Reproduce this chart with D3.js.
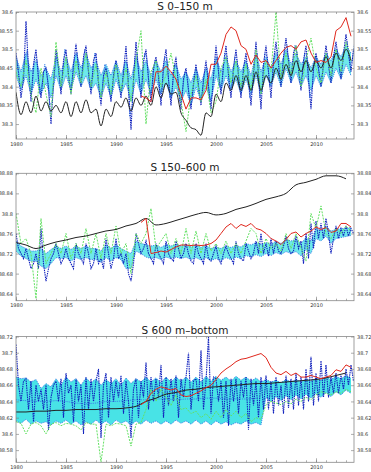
<!DOCTYPE html>
<html>
<head>
<meta charset="utf-8">
<script src="https://cdn.jsdelivr.net/npm/d3@7"></script>
<style>
  body { margin: 0; background: #fff; }
  .tick text { font-family: "DejaVu Sans", sans-serif; font-size: 5px; fill: #333; }
  .tick line { stroke: #777; stroke-width: 0.6; }
  .title { font-family: "DejaVu Sans", sans-serif; font-size: 10.5px; fill: #222; }
</style>
</head>
<body>
<div id="chart"></div>
<script>
// x axis labels, shared by the three panels
const xTicks = [1980, 1985, 1990, 1995, 2000, 2005, 2010];

// ---------- S 0-150 m ----------
const yTicks1 = [38.3, 38.35, 38.4, 38.45, 38.5, 38.55, 38.6];
// half-yearly from 1980.0
const black1 = [38.385,38.325,38.36,38.33,38.375,38.335,38.36,38.335,38.35,38.33,38.36,38.32,38.36,38.33,38.365,38.33,38.34,38.295,38.34,38.32,38.36,38.345,38.37,38.335,38.37,38.35,38.375,38.35,38.40,38.37,38.41,38.38,38.385,38.33,38.31,38.29,38.285,38.27,38.33,38.32,38.38,38.36,38.41,38.39,38.43,38.39,38.43,38.39,38.44,38.39,38.43,38.41,38.45,38.42,38.46,38.43,38.47,38.44,38.47,38.44,38.47,38.45,38.48,38.45,38.49,38.47,38.50,38.47];
// half-yearly from 1992.5
const red1 = [38.375,38.37,38.36,38.44,38.44,38.455,38.44,38.42,38.38,38.34,38.37,38.37,38.365,38.39,38.46,38.46,38.49,38.54,38.56,38.55,38.51,38.50,38.46,38.485,38.465,38.47,38.45,38.47,38.49,38.505,38.51,38.50,38.52,38.525,38.49,38.465,38.47,38.465,38.48,38.55,38.56,38.585,38.535];
// quarterly from 1980.0 (dark blue)
const blue1 = [
  38.49,38.44,38.37,38.42, 38.575,38.45,38.36,38.46, 38.50,38.42,38.37,38.44, 38.45,38.40,38.30,38.41,
  38.50,38.45,38.38,38.47, 38.50,38.43,38.38,38.46, 38.515,38.45,38.40,38.48, 38.51,38.44,38.38,38.47,
  38.49,38.41,38.35,38.43, 38.45,38.41,38.36,38.43, 38.47,38.42,38.37,38.44, 38.51,38.40,38.285,38.42,
  38.52,38.44,38.37,38.47, 38.50,38.42,38.36,38.45, 38.48,38.43,38.35,38.46, 38.50,38.42,38.35,38.44,
  38.48,38.40,38.34,38.42, 38.45,38.39,38.34,38.41, 38.46,38.40,38.35,38.42, 38.47,38.40,38.34,38.43,
  38.51,38.44,38.38,38.46, 38.51,38.43,38.37,38.45, 38.50,38.43,38.37,38.45, 38.49,38.42,38.35,38.44,
  38.52,38.43,38.34,38.46, 38.51,38.44,38.37,38.47, 38.52,38.46,38.40,38.48, 38.53,38.47,38.41,38.49,
  38.51,38.45,38.39,38.47, 38.51,38.42,38.34,38.45, 38.49,38.45,38.40,38.46, 38.51,38.46,38.41,38.48,
  38.52,38.47,38.42,38.49, 38.54,38.49,38.44,38.50];
// quarterly from 1980.125 (medium blue)
const blueB1 = [
  38.46,38.40,38.41,38.47, 38.50,38.39,38.40,38.48, 38.47,38.38,38.41,38.46, 38.43,38.35,38.36,38.44,
  38.49,38.41,38.42,38.50, 38.47,38.40,38.41,38.48, 38.49,38.42,38.43,38.50, 38.48,38.40,38.42,38.49,
  38.45,38.37,38.39,38.46, 38.44,38.38,38.39,38.45, 38.45,38.39,38.40,38.47, 38.46,38.32,38.35,38.48,
  38.49,38.40,38.41,38.49, 38.47,38.38,38.40,38.47, 38.46,38.38,38.40,38.48, 38.47,38.37,38.39,38.46,
  38.45,38.36,38.38,38.44, 38.43,38.36,38.37,38.43, 38.44,38.37,38.38,38.44, 38.45,38.36,38.38,38.46,
  38.48,38.40,38.41,38.49, 38.48,38.39,38.41,38.48, 38.47,38.39,38.41,38.47, 38.46,38.37,38.39,38.47,
  38.49,38.37,38.39,38.49, 38.48,38.40,38.42,38.49, 38.50,38.42,38.44,38.50, 38.51,38.43,38.45,38.51,
  38.49,38.41,38.43,38.49, 38.48,38.37,38.40,38.48, 38.47,38.42,38.43,38.48, 38.49,38.43,38.44,38.50,
  38.50,38.44,38.45,38.51, 38.52,38.46,38.47,38.52];
// half-yearly envelope from 1980.0
const bandHi1 = [38.48,38.44,38.49,38.44,38.47,38.43,38.45,38.42,38.48,38.44,38.48,38.44,38.49,38.45,38.49,38.45,38.47,38.43,38.46,38.43,38.47,38.43,38.47,38.42,38.48,38.44,38.47,38.43,38.47,38.44,38.47,38.43,38.46,38.42,38.44,38.41,38.45,38.41,38.45,38.42,38.48,38.44,38.48,38.44,38.47,38.44,38.47,38.43,38.49,38.44,38.48,38.45,38.49,38.46,38.50,38.46,38.49,38.46,38.48,38.45,38.48,38.46,38.49,38.47,38.50,38.48,38.51,38.49];
const bandLo1 = [38.43,38.39,38.43,38.38,38.42,38.38,38.41,38.37,38.43,38.39,38.43,38.39,38.44,38.40,38.43,38.39,38.41,38.37,38.41,38.37,38.42,38.38,38.41,38.36,38.42,38.38,38.42,38.38,38.42,38.38,38.41,38.37,38.40,38.36,38.39,38.35,38.40,38.36,38.40,38.36,38.43,38.39,38.43,38.39,38.42,38.38,38.42,38.38,38.43,38.38,38.43,38.40,38.44,38.40,38.45,38.41,38.44,38.40,38.43,38.39,38.43,38.40,38.44,38.41,38.45,38.42,38.46,38.43];
const green1 = [38.44,38.40,38.47,38.38,38.33,38.45,38.38,38.32,38.52,38.40,38.48,38.38,38.47,38.41,38.49,38.40,38.46,38.37,38.44,38.38,38.46,38.39,38.45,38.36,38.47,38.55,38.30,38.44,38.47,38.40,38.43,38.49,38.42,38.36,38.28,38.38,38.43,38.36,38.42,38.33,38.36,38.45,38.48,38.41,38.47,38.40,38.46,38.39,38.50,38.38,38.47,38.44,38.60,38.42,38.49,38.43,38.51,38.40,38.47,38.53,38.45,38.41,38.49,38.43,38.50,38.44,38.52,38.47];

// ---------- S 150-600 m ----------
const yTicks2 = [38.64, 38.68, 38.72, 38.76, 38.8, 38.84, 38.88];
// yearly from 1980
const black2 = [38.742,38.737,38.730,38.737,38.743,38.747,38.752,38.755,38.760,38.765,38.768,38.775,38.780,38.790,38.777,38.780,38.786,38.792,38.798,38.802,38.797,38.800,38.808,38.813,38.820,38.828,38.833,38.840,38.857,38.862,38.868,38.875,38.875,38.869];
// half-yearly from 1992.5
const red2 = [38.782,38.790,38.720,38.722,38.725,38.723,38.728,38.733,38.737,38.737,38.736,38.737,38.736,38.737,38.740,38.747,38.760,38.773,38.780,38.770,38.778,38.774,38.780,38.770,38.767,38.760,38.750,38.745,38.738,38.748,38.760,38.763,38.753,38.760,38.765,38.773,38.768,38.772,38.762,38.765,38.780,38.780,38.773];
const blue2 = [
  38.76,38.73,38.72,38.71, 38.73,38.71,38.69,38.70, 38.72,38.69,38.77,38.70, 38.665,38.69,38.71,38.72,
  38.74,38.72,38.70,38.71, 38.73,38.71,38.70,38.69, 38.74,38.72,38.71,38.70, 38.74,38.72,38.69,38.70,
  38.73,38.70,38.71,38.69, 38.75,38.72,38.69,38.71, 38.75,38.71,38.72,38.70, 38.72,38.68,38.665,38.70,
  38.76,38.74,38.72,38.73, 38.745,38.72,38.71,38.70, 38.74,38.72,38.71,38.70, 38.745,38.72,38.71,38.705,
  38.745,38.73,38.71,38.72, 38.74,38.72,38.705,38.70, 38.74,38.72,38.71,38.70, 38.74,38.71,38.705,38.72,
  38.735,38.71,38.70,38.72, 38.735,38.72,38.71,38.70, 38.745,38.72,38.71,38.705, 38.74,38.725,38.71,38.72,
  38.745,38.72,38.76,38.72, 38.74,38.715,38.75,38.72, 38.745,38.725,38.72,38.735, 38.755,38.73,38.72,38.725,
  38.755,38.73,38.745,38.70, 38.76,38.71,38.78,38.73, 38.785,38.75,38.78,38.75, 38.79,38.76,38.72,38.75,
  38.775,38.75,38.77,38.755, 38.775,38.755,38.77,38.76];
const bandHi2 = [38.745,38.735,38.73,38.725,38.725,38.73,38.72,38.728,38.735,38.73,38.735,38.728,38.735,38.73,38.735,38.73,38.73,38.725,38.738,38.73,38.738,38.73,38.725,38.72,38.745,38.74,38.738,38.735,38.737,38.732,38.738,38.735,38.738,38.735,38.738,38.733,38.738,38.732,38.736,38.73,38.733,38.73,38.735,38.732,38.736,38.733,38.74,38.737,38.742,38.738,38.742,38.738,38.745,38.74,38.748,38.745,38.748,38.74,38.752,38.745,38.77,38.765,38.775,38.765,38.768,38.77,38.77,38.772];
const bandLo2 = [38.725,38.715,38.71,38.705,38.705,38.695,38.69,38.70,38.712,38.71,38.712,38.705,38.712,38.708,38.712,38.708,38.708,38.703,38.712,38.705,38.712,38.708,38.69,38.69,38.725,38.72,38.713,38.71,38.712,38.708,38.713,38.71,38.713,38.71,38.713,38.708,38.712,38.707,38.712,38.706,38.71,38.706,38.712,38.708,38.713,38.71,38.716,38.713,38.718,38.714,38.72,38.716,38.722,38.718,38.724,38.72,38.724,38.715,38.728,38.72,38.75,38.745,38.755,38.74,38.75,38.752,38.754,38.756];
const green2 = [38.80,38.74,38.75,38.72,38.63,38.79,38.70,38.72,38.74,38.72,38.76,38.71,38.74,38.72,38.77,38.72,38.76,38.71,38.76,38.72,38.775,38.72,38.74,38.68,38.76,38.74,38.76,38.81,38.73,38.745,38.76,38.72,38.75,38.72,38.77,38.72,38.765,38.72,38.76,38.725,38.74,38.72,38.745,38.72,38.74,38.72,38.745,38.77,38.76,38.72,38.75,38.73,38.74,38.725,38.76,38.73,38.76,38.73,38.705,38.80,38.77,38.815,38.76,38.75,38.77,38.76,38.775,38.765];

// ---------- S 600 m-bottom ----------
const yTicks3 = [38.58, 38.6, 38.62, 38.64, 38.66, 38.68, 38.7, 38.72];
const black3 = [38.627,38.627,38.628,38.628,38.629,38.629,38.630,38.630,38.630,38.631,38.631,38.632,38.634,38.640,38.644,38.649,38.651,38.654,38.655,38.657,38.658,38.659,38.660,38.661,38.662,38.662,38.663,38.664,38.665,38.666,38.667,38.669,38.672,38.675];
const red3 = [38.636,38.640,38.650,38.655,38.658,38.656,38.654,38.656,38.648,38.646,38.647,38.650,38.653,38.657,38.660,38.667,38.675,38.680,38.684,38.689,38.692,38.693,38.695,38.697,38.699,38.694,38.682,38.675,38.673,38.677,38.672,38.675,38.670,38.670,38.672,38.670,38.668,38.670,38.672,38.679,38.677,38.685,38.682];
const blue3 = [
  38.71,38.66,38.64,38.665, 38.668,38.63,38.665,38.615, 38.66,38.64,38.655,38.63, 38.66,38.605,38.645,38.66,
  38.665,38.64,38.668,38.62, 38.675,38.65,38.66,38.615, 38.668,38.64,38.66,38.60, 38.67,38.63,38.668,38.64,
  38.665,38.68,38.595,38.66, 38.675,38.62,38.67,38.64, 38.665,38.645,38.672,38.625, 38.665,38.64,38.595,38.655,
  38.668,38.62,38.665,38.645, 38.688,38.63,38.67,38.64, 38.668,38.645,38.685,38.62, 38.67,38.635,38.668,38.64,
  38.672,38.62,38.668,38.645, 38.67,38.70,38.63,38.665, 38.668,38.64,38.703,38.63, 38.665,38.72,38.625,38.67,
  38.668,38.64,38.665,38.62, 38.665,38.61,38.668,38.64, 38.668,38.625,38.665,38.645, 38.67,38.605,38.668,38.635,
  38.665,38.62,38.67,38.63, 38.672,38.63,38.665,38.625, 38.67,38.635,38.66,38.625, 38.672,38.632,38.668,38.63,
  38.675,38.635,38.67,38.63, 38.68,38.64,38.695,38.635, 38.675,38.64,38.69,38.645, 38.685,38.645,38.67,38.65,
  38.675,38.65,38.672,38.655, 38.68,38.66,38.685,38.665];
const bandHi3 = [38.670,38.668,38.669,38.664,38.667,38.656,38.662,38.658,38.668,38.660,38.670,38.664,38.668,38.660,38.669,38.663,38.668,38.660,38.667,38.662,38.668,38.660,38.669,38.662,38.668,38.664,38.670,38.664,38.669,38.663,38.670,38.664,38.670,38.665,38.670,38.664,38.670,38.664,38.671,38.665,38.671,38.666,38.670,38.665,38.671,38.666,38.670,38.665,38.669,38.664,38.667,38.664,38.666,38.663,38.667,38.664,38.667,38.664,38.668,38.665,38.669,38.666,38.670,38.667,38.671,38.668,38.672,38.669];
const bandLo3 = [38.616,38.613,38.618,38.612,38.616,38.613,38.615,38.611,38.616,38.613,38.617,38.612,38.616,38.611,38.615,38.612,38.617,38.612,38.616,38.611,38.617,38.613,38.616,38.611,38.616,38.612,38.617,38.613,38.616,38.612,38.616,38.612,38.617,38.613,38.616,38.612,38.617,38.612,38.616,38.611,38.616,38.612,38.615,38.611,38.614,38.612,38.616,38.612,38.614,38.611,38.645,38.640,38.646,38.641,38.647,38.642,38.648,38.643,38.649,38.644,38.650,38.645,38.651,38.646,38.652,38.648,38.654,38.650];
// yearly 1980-2004
const mid3 = [38.642,38.641,38.640,38.640,38.641,38.640,38.638,38.637,38.638,38.640,38.640,38.641,38.642,38.642,38.643,38.643,38.642,38.643,38.643,38.644,38.644,38.643,38.643,38.643,38.644];
const green3 = [38.615,38.613,38.60,38.612,38.614,38.61,38.60,38.612,38.614,38.61,38.613,38.612,38.61,38.605,38.614,38.612,38.612,38.565,38.612,38.61,38.613,38.612,38.61,38.585,38.612,38.614,38.63,38.655,38.64,38.655,38.645,38.635,38.648,38.63,38.632,38.625,38.628,38.62,38.625,38.618,38.628,38.62,38.63,38.622,38.628,38.62,38.625,38.615,38.62,38.618,38.636,38.64,38.638,38.636,38.64,38.637,38.643,38.64,38.645,38.642,38.648,38.652,38.65,38.648,38.652,38.65,38.655,38.652];

const W = 371, H = 472;
const svg = d3.select("#chart").append("svg")
    .attr("width", W)
    .attr("height", H)
    .style("background", "#fff");

const x = d3.scaleLinear().domain([1980, 2013.8]).range([16, 354]);

// turn an array into {t, v} points starting at t0 with step dt
function pts(vals, t0, dt) {
    return vals.map((v, i) => ({ t: t0 + i * dt, v: v }));
}

function drawPanel(p) {
    const y = d3.scaleLinear().domain(p.yDomain).range([p.bottom, p.top]);
    const g = svg.append("g");
    const clipId = "clip" + p.id;
    g.append("clipPath").attr("id", clipId)
        .append("rect").attr("x", 16).attr("y", p.top).attr("width", 338).attr("height", p.bottom - p.top);
    const plot = g.append("g").attr("clip-path", `url(#${clipId})`);

    const line = d3.line().x(d => x(d.t)).y(d => y(d.v));
    const dotted = (sel, color, w, dash) => sel.attr("d", line).attr("fill", "none")
        .attr("stroke", color).attr("stroke-width", w).attr("stroke-dasharray", dash);

    // spread band
    const hi = pts(p.bandHi, 1980, 0.5), lo = pts(p.bandLo, 1980, 0.5);
    const area = d3.area().x(d => x(d.t)).y0((d, i) => y(lo[i].v)).y1(d => y(d.v));
    plot.append("path").datum(hi).attr("d", area)
        .attr("fill", "#48e3e6").attr("opacity", p.bandOpacity);
    [hi, lo].forEach(s => dotted(plot.append("path").datum(s), "#3a7ce8", 0.9, "1.2,1"));
    if (p.mid) dotted(plot.append("path").datum(pts(p.mid, 1980, 1)), "#3a7ce8", 0.9, "1.2,1");

    // second member, medium blue dotted
    if (p.blueB) dotted(plot.append("path").datum(pts(p.blueB, 1980.125, 0.25)), "#3f86e8", 1, "1.4,0.9");

    // ensemble member, dark blue dotted
    dotted(plot.append("path").datum(pts(p.blue, 1980, 0.25)), "#1222bd", 1.1, "1.5,0.8");

    // green dotted
    dotted(plot.append("path").datum(pts(p.green, 1980, 0.5)), "#63e063", 1, "2,1.2");

    // black
    plot.append("path").datum(pts(p.black, 1980, p.blackStep))
        .attr("d", d3.line().x(d => x(d.t)).y(d => y(d.v)).curve(d3.curveMonotoneX))
        .attr("fill", "none").attr("stroke", "#222").attr("stroke-width", 1);

    // red from 1992.5
    plot.append("path").datum(pts(p.red, 1992.5, 0.5)).attr("d", line)
        .attr("fill", "none").attr("stroke", "#e0281e").attr("stroke-width", 1);

    // axes, ticks pointing inward
    const minor = d3.range(1980, 2014, 1);
    const fmt = d => d3.format("")(+d.toFixed(3));
    g.append("g").attr("transform", `translate(0,${p.bottom})`)
        .call(d3.axisBottom(x).tickValues(minor).tickSizeInner(-2).tickSizeOuter(0).tickFormat(""));
    g.append("g").attr("transform", `translate(0,${p.bottom})`)
        .call(d3.axisBottom(x).tickValues(xTicks).tickSizeInner(-4).tickSizeOuter(0).tickPadding(3).tickFormat(d3.format("d")));
    g.append("g").attr("transform", `translate(0,${p.top})`)
        .call(d3.axisTop(x).tickValues(minor).tickSizeInner(-2).tickSizeOuter(0).tickFormat(""));
    g.append("g").attr("transform", "translate(16,0)")
        .call(d3.axisLeft(y).tickValues(p.yTicks).tickSizeInner(-3).tickSizeOuter(0).tickPadding(3).tickFormat(fmt));
    g.append("g").attr("transform", "translate(354,0)")
        .call(d3.axisRight(y).tickValues(p.yTicks).tickSizeInner(-3).tickSizeOuter(0).tickPadding(3).tickFormat(fmt));
    g.selectAll(".domain").remove();

    g.append("rect").attr("x", 16).attr("y", p.top).attr("width", 338).attr("height", p.bottom - p.top)
        .attr("fill", "none").attr("stroke", "#888").attr("stroke-width", 0.8);

    g.append("text").attr("class", "title")
        .attr("x", 185).attr("y", p.top - 2.5).attr("text-anchor", "middle")
        .text(p.title);
}

drawPanel({ id: 1, title: "S 0\u2013150 m", top: 12, bottom: 139, yDomain: [38.26, 38.6], yTicks: yTicks1,
    black: black1, blackStep: 0.5, red: red1, blue: blue1, blueB: blueB1, bandHi: bandHi1, bandLo: bandLo1, green: green1, bandOpacity: 0.8 });
drawPanel({ id: 2, title: "S 150\u2013600 m", top: 173.3, bottom: 300.7, yDomain: [38.626, 38.88], yTicks: yTicks2,
    black: black2, blackStep: 1, red: red2, blue: blue2, bandHi: bandHi2, bandLo: bandLo2, green: green2, bandOpacity: 0.8 });
drawPanel({ id: 3, title: "S 600 m\u2013bottom", top: 336.5, bottom: 462.3, yDomain: [38.565, 38.72], yTicks: yTicks3,
    black: black3, blackStep: 1, red: red3, blue: blue3, bandHi: bandHi3, bandLo: bandLo3, green: green3, mid: mid3, bandOpacity: 1 });
</script>
</body>
</html>
